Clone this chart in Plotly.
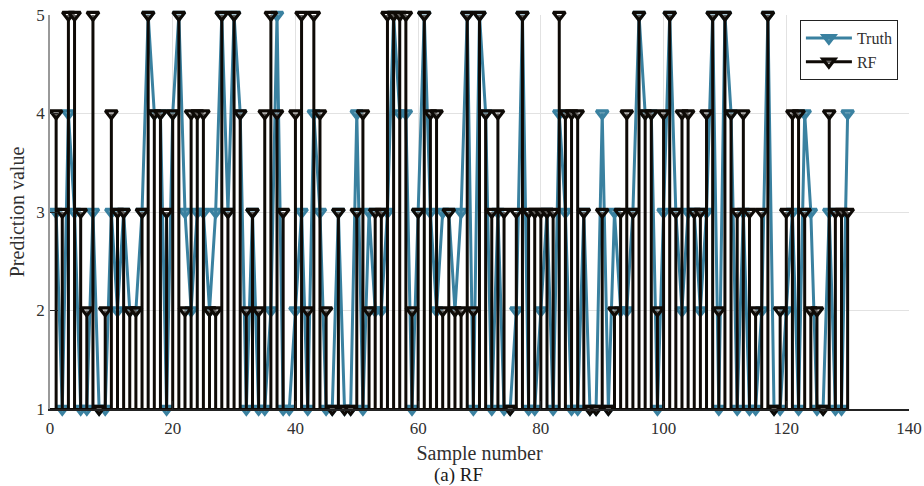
import plotly.graph_objects as go

samples = list(range(1, 131))
truth = [3,1,4,3,1,1,3,1,1,3,2,3,2,2,3,5,4,4,1,4,5,3,2,3,3,2,3,5,3,5,
         4,1,3,1,1,2,5,1,1,2,3,1,4,3,1,1,3,1,1,4,1,3,2,2,3,5,4,4,1,3,
         5,3,2,3,3,2,3,5,1,5,4,1,3,1,1,2,5,1,1,2,3,1,4,3,1,1,3,1,1,4,
         1,3,2,2,3,5,4,4,1,3,5,3,2,3,3,2,3,5,1,5,4,1,3,1,1,2,5,1,1,2,
         3,1,4,3,1,1,3,1,1,4]
rf = [4,3,5,5,3,2,5,1,2,4,3,3,2,2,3,5,4,4,3,4,5,2,4,4,4,2,2,5,3,5,
      4,2,3,2,4,5,4,3,None,4,5,2,5,4,2,1,3,1,1,3,4,2,3,3,5,5,5,5,2,3,
      5,4,4,2,3,2,2,5,2,5,4,3,4,3,1,3,5,3,3,3,3,3,5,4,4,4,3,1,1,3,
      1,2,3,4,3,5,4,4,2,4,5,3,4,4,3,3,4,5,2,5,4,3,4,3,2,3,5,1,2,3,
      4,4,3,2,2,1,4,3,3,3]
x_ticks = [0, 20, 40, 60, 80, 100, 120, 140]
y_ticks = [1, 2, 3, 4, 5]
baseline = 1

TEAL = "#3A81A0"
INK = "#0E0A06"
FONT = "Liberation Serif"
TXT = "#303030"

fig = go.Figure()
fig.add_trace(go.Scatter(
    x=samples, y=truth, mode="lines+markers", name="Truth", cliponaxis=False,
    line=dict(color=TEAL, width=3),
    marker=dict(symbol="triangle-down", size=10.5, color="rgba(58,129,160,0.7)",
                line=dict(color=TEAL, width=3)),
))
fig.add_trace(go.Scatter(
    x=[0, samples[-1]], y=[baseline, baseline], mode="lines", showlegend=False,
    line=dict(color=INK, width=2), cliponaxis=False, hoverinfo="skip",
))
fig.add_trace(go.Scatter(
    x=samples, y=rf, mode="markers", showlegend=False, cliponaxis=False,
    marker=dict(symbol="triangle-down", size=10.5, color="rgba(255,255,255,0.35)",
                line=dict(color=INK, width=3.2)),
    error_y=dict(type="data", symmetric=False,
                 array=[0] * len(rf),
                 arrayminus=[(v - baseline) if v is not None else 0 for v in rf],
                 color=INK, thickness=3, width=0),
))
fig.add_trace(go.Scatter(
    x=[None], y=[None], mode="lines+markers", name="RF",
    line=dict(color=INK, width=3),
    marker=dict(symbol="triangle-down", size=10.5, color="rgba(255,255,255,0.35)",
                line=dict(color=INK, width=3.2)),
))

fig.update_layout(
    width=924, height=486, paper_bgcolor="white", plot_bgcolor="white",
    margin=dict(l=50, r=15, t=15, b=76.5, autoexpand=False),
    font=dict(family=FONT, color=TXT, size=16),
    legend=dict(x=0.873, y=0.987, xanchor="left", yanchor="top", bgcolor="white",
                bordercolor="#222222", borderwidth=1, itemwidth=46,
                font=dict(family=FONT, size=16, color=TXT), tracegroupgap=0),
    annotations=[dict(text="(a) RF", xref="paper", yref="paper", x=0.476, y=-0.1686,
                      xanchor="center", yanchor="middle", showarrow=False,
                      font=dict(family=FONT, size=19, color="#1a1a1a"))],
)
fig.update_xaxes(
    range=[0, 140], tickvals=x_ticks, ticks="inside", ticklen=8, tickcolor="#222222",
    showline=True, linecolor="#222222", linewidth=1.5, showgrid=True,
    gridcolor="#e2e2e2", gridwidth=1, zeroline=False, ticklabeloverflow="allow",
    ticklabelstandoff=3,
    tickfont=dict(family=FONT, size=17, color=TXT),
    title=dict(text="Sample number", font=dict(family=FONT, size=20, color=TXT), standoff=9),
)
fig.update_yaxes(
    range=[1, 5], tickvals=y_ticks, ticks="inside", ticklen=8, tickcolor="#222222",
    showline=True, linecolor="#999999", linewidth=1.5, showgrid=True,
    gridcolor="#e2e2e2", gridwidth=1, zeroline=False, ticklabeloverflow="allow",
    tickfont=dict(family=FONT, size=17, color=TXT),
    title=dict(text="Prediction value", font=dict(family=FONT, size=20, color=TXT), standoff=6),
)
fig.write_html("out.html", config={"displayModeBar": False},
               post_script="document.body.style.margin='0';")
